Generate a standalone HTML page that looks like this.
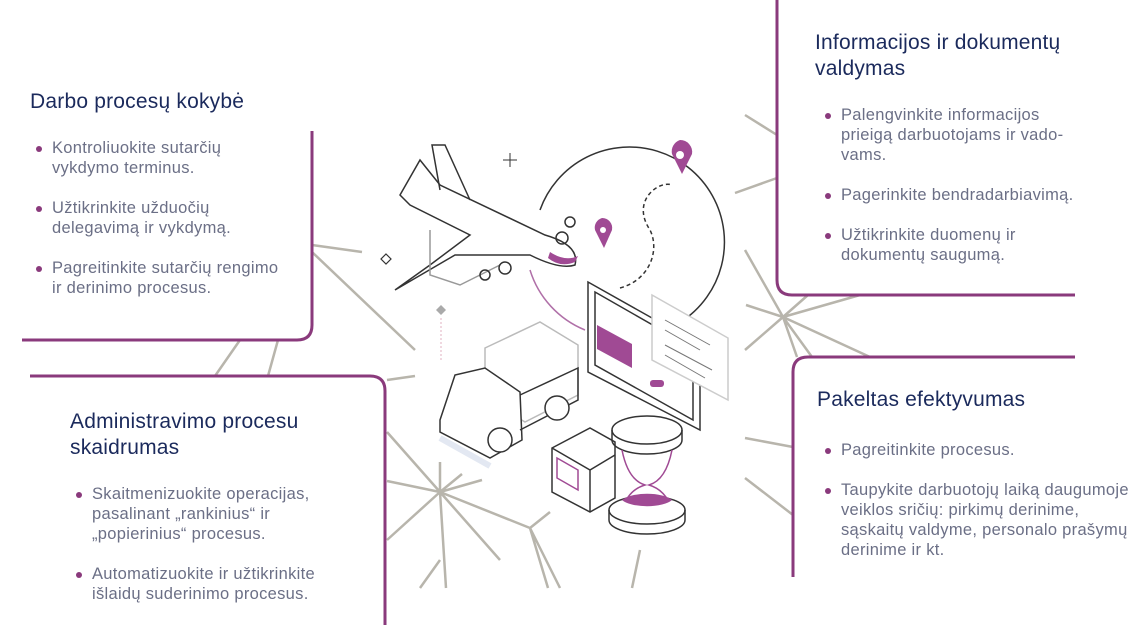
<!DOCTYPE html>
<html><head><meta charset="utf-8"><style>
body{margin:0;width:1139px;height:629px;background:#fff;position:relative;overflow:hidden;font-family:"Liberation Sans",sans-serif}
.t{position:absolute;color:#1b2a5c;font-size:21px;line-height:26px;letter-spacing:0.2px}
.b{position:absolute;color:#6b6f86;font-size:16.5px;line-height:20px;letter-spacing:0.3px;white-space:nowrap}
.b:before{content:"";position:absolute;left:-16px;top:8px;width:6px;height:6px;border-radius:50%;background:#8a3a7c}
svg{position:absolute;left:0;top:0}
</style></head><body>
<svg width="1139" height="629" viewBox="0 0 1139 629">
<g stroke="#b8b5ac" stroke-width="2.5" fill="none">
<path d="M312 245 L362 252 M312 252 L415 350 M215 376 L240 340 M268 376 L278 340 M387 380 L415 376"/>
<path d="M440 492 L387 432 M440 492 L387 481 M440 492 L387 540 M440 492 L440 462 M440 492 L462 474 M440 492 L482 480 M440 492 L446 588 M440 492 L500 560 M440 492 L530 528 M530 528 L550 512 M530 528 L548 588 M530 528 L560 588 M640 550 L632 588 M420 588 L440 560"/>
<path d="M745 115 L777 135 M735 193 L777 178 M745 250 L783 317 M783 317 L745 350 M783 317 L746 305 M783 317 L860 295 M783 317 L808 295 M783 317 L797 357 M783 317 L812 357 M783 317 L870 357 M745 438 L793 447 M745 478 L793 515"/>
</g>
<g stroke="#8a3a7c" stroke-width="3" fill="none">
<path d="M312 131 L312 325 Q312 340 297 340 L22 340"/>
<path d="M777 0 L777 280 Q777 295 792 295 L1075 295"/>
<path d="M30 376 L370 376 Q385 376 385 391 L385 625"/>
<path d="M1075 357 L808 357 Q793 357 793 372 L793 577"/>
</g>
<g fill="none" stroke="#333" stroke-width="1.5">
<path d="M540 210 A95 95 0 1 1 610 335" />
<path d="M530 270 A95 95 0 0 0 585 330" stroke="#b070a8"/>
<path d="M620 288 C650 280 660 250 650 230 C630 200 660 180 672 185" stroke-dasharray="4 3"/>
<path d="M400 195 L420 160 L440 185 L545 235 Q580 245 575 265 Q560 270 530 255 L455 255 L395 290 L430 265 L470 235 L410 205 Z" fill="#fff"/>
<path d="M470 200 L445 145 L432 145 L440 190"/>
<path d="M430 230 L430 275 L460 285 L500 265" stroke="#999"/>
<circle cx="505" cy="268" r="6"/><circle cx="485" cy="275" r="5"/><circle cx="570" cy="222" r="5"/><circle cx="562" cy="238" r="6"/>
<path d="M588 282 L700 345 L700 430 L588 372 Z" fill="#fff"/>
<path d="M595 292 L693 348 L693 420 L595 365 Z"/>
<path d="M652 295 L728 338 L728 400 L652 360 Z" stroke="#ccc" fill="#fff"/>
<path d="M665 320 L710 345 M665 330 L700 350 M665 345 L712 370 M665 355 L705 378" stroke="#777" stroke-width="1"/>
<path d="M485 348 L540 322 L578 345 L578 395 L525 422 L485 398 Z" stroke="#bbb" fill="#fff"/>
<path d="M440 420 L455 375 L485 368 L520 392 L522 440 L490 458 L440 432 Z" fill="#fff"/>
<path d="M520 395 L578 368 L578 400 L520 430" />
<circle cx="500" cy="440" r="12" fill="#fff"/><circle cx="557" cy="408" r="12" fill="#fff"/>
<path d="M440 438 L490 466" stroke="#e3e8f2" stroke-width="6"/>
<path d="M552 448 L590 428 L615 442 L615 498 L590 512 L552 492 Z" fill="#fff"/>
<path d="M552 448 L590 470 L615 455 M590 470 L590 512"/>
<path d="M557 458 L578 470 L578 490 L557 478 Z" stroke="#a04a94"/>
<ellipse cx="647" cy="430" rx="35" ry="14" fill="#fff"/>
<path d="M612 430 L612 440 A35 14 0 0 0 682 440 L682 430"/>
<path d="M622 450 Q628 480 645 485 Q628 490 622 510 M672 450 Q666 480 649 485 Q666 490 672 510" stroke="#a04a94"/>
<ellipse cx="647" cy="510" rx="38" ry="14" fill="#fff"/>
<path d="M609 510 L609 520 A38 14 0 0 0 685 520 L685 510"/>
</g>
<g fill="#a04a94">
<path d="M680 140 a12 12 0 0 1 12 14 l-10 20 l-10 -20 a12 12 0 0 1 8 -14z"/>
<path d="M602 218 a10 10 0 0 1 10 12 l-8 18 l-9 -18 a10 10 0 0 1 7 -12z"/>
<path d="M597 325 L632 344 L632 368 L597 349 Z"/>
<path d="M622 500 A27 10 0 0 0 672 500 A27 10 0 0 0 622 500"/>
<path d="M550 252 Q565 262 578 256 L575 262 Q560 268 548 258Z"/>
<rect x="650" y="380" width="14" height="7" rx="3"/>
</g>
<circle cx="680" cy="155" r="4" fill="#fff"/><circle cx="603" cy="230" r="3" fill="#fff"/>
<path d="M510 153 v14 M503 160 h14" stroke="#333" stroke-width="1"/>
<path d="M386 254 l5 5 l-5 5 l-5 -5z" stroke="#333" fill="#fff" stroke-width="1.2"/>
<path d="M441 305 l5 5 l-5 5 l-5 -5z" fill="#aaa"/>
<path d="M441 318 V360" stroke="#e0b0c0" stroke-dasharray="2 2"/>
</svg>

<div class="t" style="left:30px;top:89px">Darbo procesų kokybė</div>
<div class="b" style="left:52px;top:138px">Kontroliuokite sutarčių<br>vykdymo terminus.</div>
<div class="b" style="left:52px;top:198px">Užtikrinkite užduočių<br>delegavimą ir vykdymą.</div>
<div class="b" style="left:52px;top:258px">Pagreitinkite sutarčių rengimo<br>ir derinimo procesus.</div>

<div class="t" style="left:815px;top:30px">Informacijos ir dokumentų<br>valdymas</div>
<div class="b" style="left:841px;top:105px">Palengvinkite informacijos<br>prieigą darbuotojams ir vado-<br>vams.</div>
<div class="b" style="left:841px;top:185px">Pagerinkite bendradarbiavimą.</div>
<div class="b" style="left:841px;top:225px">Užtikrinkite duomenų ir<br>dokumentų saugumą.</div>

<div class="t" style="left:70px;top:409px">Administravimo procesu<br>skaidrumas</div>
<div class="b" style="left:92px;top:484px">Skaitmenizuokite operacijas,<br>pasalinant „rankinius“ ir<br>„popierinius“ procesus.</div>
<div class="b" style="left:92px;top:564px">Automatizuokite ir užtikrinkite<br>išlaidų suderinimo procesus.</div>

<div class="t" style="left:817px;top:387px">Pakeltas efektyvumas</div>
<div class="b" style="left:841px;top:440px">Pagreitinkite procesus.</div>
<div class="b" style="left:841px;top:480px">Taupykite darbuotojų laiką daugumoje<br>veiklos sričių: pirkimų derinime,<br>sąskaitų valdyme, personalo prašymų<br>derinime ir kt.</div>
</body></html>
